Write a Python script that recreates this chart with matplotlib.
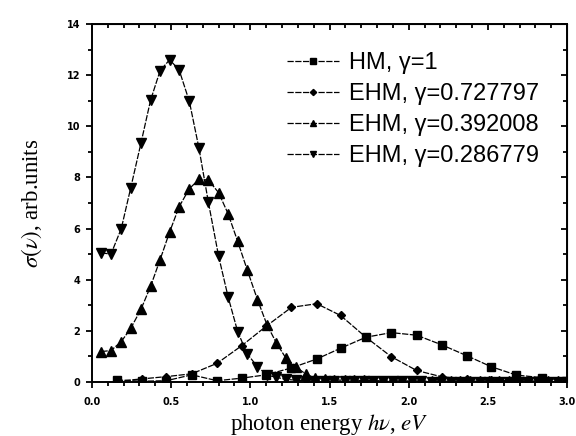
import matplotlib
matplotlib.use("Agg")
import matplotlib.pyplot as plt
from matplotlib.ticker import MultipleLocator

# HM / EHM(0.727797): coarse energy grid
x_coarse = [0.157, 0.315, 0.47, 0.63, 0.79, 0.946, 1.10, 1.26, 1.42, 1.57,
            1.73, 1.89, 2.05, 2.21, 2.37, 2.52, 2.68, 2.84, 3.0]
hm_g1 = [0.08, 0.03, 0.05, 0.28, 0.05, 0.15, 0.28, 0.55, 0.9, 1.32,
         1.75, 1.93, 1.83, 1.45, 1.02, 0.6, 0.27, 0.17, 0.05]
ehm_g073 = [0.03, 0.12, 0.21, 0.32, 0.73, 1.42, 2.18, 2.92, 3.06, 2.6,
            1.75, 0.99, 0.45, 0.2, 0.12, 0.07, 0.05, 0.03, 0.02]

# EHM(0.392008) / EHM(0.286779): fine energy grid
x_fine = [0.06, 0.12, 0.185, 0.245, 0.31, 0.37, 0.43, 0.49, 0.55, 0.615,
          0.675, 0.735, 0.80, 0.86, 0.92, 0.98, 1.045, 1.105, 1.165, 1.225,
          1.29, 1.35, 1.41, 1.47, 1.53, 1.595, 1.655, 1.715, 1.775, 1.84,
          1.90, 1.96, 2.02, 2.08, 2.145, 2.205, 2.265, 2.325, 2.39, 2.45,
          2.51, 2.57, 2.635, 2.695, 2.755, 2.815, 2.88, 2.94, 3.0]
ehm_g039 = [1.19, 1.23, 1.58, 2.1, 2.85, 3.74, 4.78, 5.86, 6.85, 7.56,
            7.92, 7.9, 7.4, 6.57, 5.5, 4.39, 3.22, 2.24, 1.52, 0.93,
            0.58, 0.31, 0.16, 0.1, 0.08, 0.07, 0.06, 0.06, 0.05, 0.05,
            0.05, 0.04, 0.04, 0.04, 0.04, 0.03, 0.03, 0.03, 0.03, 0.03,
            0.03, 0.02, 0.02, 0.02, 0.02, 0.02, 0.02, 0.02, 0.02]
ehm_g029 = [5.05, 5.0, 6.0, 7.6, 9.36, 11.02, 12.17, 12.6, 12.21, 10.97,
            9.16, 7.03, 4.91, 3.32, 1.97, 1.10, 0.6, 0.27, 0.18, 0.1,
            0.07, 0.05, 0.04, 0.04, 0.03, 0.03, 0.03, 0.02, 0.02, 0.02,
            0.02, 0.02, 0.02, 0.02, 0.01, 0.01, 0.01, 0.01, 0.01, 0.01,
            0.01, 0.01, 0.01, 0.01, 0.01, 0.01, 0.01, 0.01, 0.01]

labels = ['HM, γ=1', 'EHM, γ=0.727797', 'EHM, γ=0.392008', 'EHM, γ=0.286779']

plt.rcParams['mathtext.fontset'] = 'stix'

fig = plt.figure(figsize=(5.76, 4.36), dpi=100)
ax = fig.add_axes([0.1597, 0.1239, 0.8247, 0.8211])

dash = (5, 1.2)
common = dict(color='black', lw=0.9, dashes=dash, markeredgecolor='black',
              markerfacecolor='black')
ax.plot(x_coarse, hm_g1, marker='s', ms=5.5, label=labels[0], **common)
ax.plot(x_coarse, ehm_g073, marker='D', ms=4.5, label=labels[1], **common)
ax.plot(x_fine, ehm_g039, marker='^', ms=7, label=labels[2], **common)
ax.plot(x_fine, ehm_g029, marker='v', ms=7, label=labels[3], **common)

ax.set_xlim(0, 3.0)
ax.set_ylim(0, 14)
ax.xaxis.set_major_locator(MultipleLocator(0.5))
ax.xaxis.set_minor_locator(MultipleLocator(0.1))
ax.yaxis.set_major_locator(MultipleLocator(2))
ax.yaxis.set_minor_locator(MultipleLocator(1))
ax.xaxis.set_major_formatter(plt.FuncFormatter(lambda v, p: '%.1f' % v))

for s in ax.spines.values():
    s.set_linewidth(1.4)

ax.tick_params(which='both', direction='out', bottom=True, left=True,
               top=False, right=False, width=1.3)
ax.tick_params(which='major', length=4.5)
ax.tick_params(which='minor', length=3)
ax.tick_params(axis='x', pad=6)
ax.tick_params(axis='y', pad=4)
for lab in ax.get_xticklabels() + ax.get_yticklabels():
    lab.set_fontweight('bold')
    lab.set_fontsize(7)
    lab.set_family('DejaVu Sans')

# inward ticks on top and right
axt = ax.secondary_xaxis('top')
axt.xaxis.set_major_locator(MultipleLocator(0.5))
axt.xaxis.set_minor_locator(MultipleLocator(0.1))
axt.tick_params(which='both', direction='in', labeltop=False, width=1.3)
axt.tick_params(which='major', length=4.5)
axt.tick_params(which='minor', length=3)
axr = ax.secondary_yaxis('right')
axr.yaxis.set_major_locator(MultipleLocator(2))
axr.yaxis.set_minor_locator(MultipleLocator(1))
axr.tick_params(which='both', direction='in', labelright=False, width=1.3)
axr.tick_params(which='major', length=4.5)
axr.tick_params(which='minor', length=3)

ax.set_xlabel(r'photon energy $h\nu$, $eV$', family='Liberation Serif',
              fontsize=16.5, labelpad=4)
ax.set_ylabel(r'$\sigma(\nu)$, arb.units', family='Liberation Serif',
              fontsize=16.5, labelpad=16)

leg = ax.legend(loc='upper left', bbox_to_anchor=(0.385, 0.955), frameon=False,
                prop={'family': 'Liberation Sans', 'size': 17},
                handlelength=2.2, handletextpad=0.45, labelspacing=0.38,
                borderpad=0, markerscale=0.7)

fig.savefig('out.png', dpi=100)
